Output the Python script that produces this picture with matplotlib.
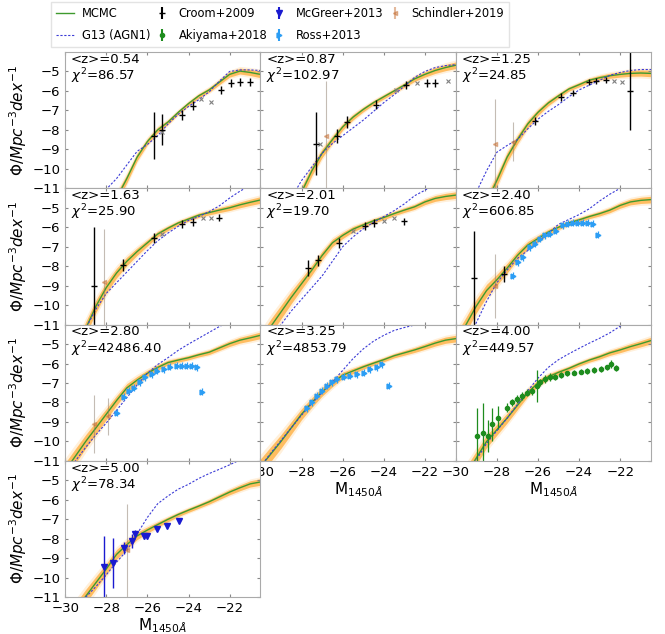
#!/usr/bin/env python3
import numpy as np
import matplotlib
matplotlib.use('Agg')
import matplotlib.pyplot as plt
from matplotlib.lines import Line2D

# magnitude grid of the model curves
M_GRID = [-30.0, -29.5, -29.0, -28.5, -28.0, -27.5, -27.0, -26.5, -26.0, -25.5,
          -25.0, -24.5, -24.0, -23.5, -23.0, -22.5, -22.0, -21.5, -21.0, -20.5]

Z_MEAN = ['0.54', '0.87', '1.25', '1.63', '2.01', '2.40', '2.80', '3.25', '4.00', '5.00']
CHI2 = ['86.57', '102.97', '24.85', '25.90', '19.70', '606.85', '42486.40', '4853.79', '449.57', '78.34']

MCMC_PHI = [
    [-16.0, -15.0, -14.0, -13.2, -12.3, -11.5, -10.5, -9.4, -8.6, -8.0, -7.6, -7.1, -6.65, -6.25, -5.95, -5.55, -5.15, -4.98, -5.05, -5.15],
    [-15.5, -14.5, -13.3, -12.3, -11.2, -10.1, -9.2, -8.5, -7.85, -7.35, -6.95, -6.6, -6.3, -6.0, -5.7, -5.38, -5.15, -4.95, -4.8, -4.68],
    [-15.0, -14.0, -12.8, -11.7, -10.6, -9.4, -8.5, -7.7, -7.1, -6.62, -6.25, -5.9, -5.68, -5.45, -5.32, -5.22, -5.15, -5.1, -5.08, -5.1],
    [-13.5, -12.4, -11.2, -10.05, -9.1, -8.35, -7.75, -7.25, -6.8, -6.35, -6.05, -5.78, -5.58, -5.38, -5.25, -5.12, -5.0, -4.85, -4.72, -4.6],
    [-11.9, -11.1, -10.35, -9.6, -8.9, -8.2, -7.45, -6.8, -6.42, -6.1, -5.88, -5.67, -5.5, -5.3, -5.12, -4.95, -4.7, -4.52, -4.42, -4.35],
    [-11.9, -11.0, -10.05, -9.25, -8.7, -8.1, -7.45, -6.92, -6.58, -6.25, -6.0, -5.78, -5.62, -5.45, -5.3, -5.12, -4.88, -4.7, -4.62, -4.58],
    [-11.5, -10.75, -10.0, -9.3, -8.6, -7.9, -7.25, -6.85, -6.5, -6.2, -5.95, -5.82, -5.7, -5.55, -5.42, -5.2, -4.98, -4.8, -4.68, -4.55],
    [-11.3, -10.65, -10.0, -9.3, -8.6, -8.0, -7.45, -7.0, -6.6, -6.38, -6.17, -5.98, -5.8, -5.6, -5.45, -5.3, -5.13, -4.95, -4.8, -4.72],
    [-12.5, -11.7, -10.85, -10.0, -9.4, -8.8, -8.15, -7.5, -7.0, -6.68, -6.45, -6.25, -6.02, -5.82, -5.65, -5.45, -5.3, -5.13, -4.98, -4.82],
    [-12.4, -11.7, -10.95, -10.25, -9.55, -8.8, -8.3, -7.85, -7.55, -7.27, -7.0, -6.75, -6.53, -6.32, -6.1, -5.85, -5.6, -5.38, -5.18, -5.08],
]

BAND_HALF = [0.4, 0.38, 0.35, 0.32, 0.28, 0.25, 0.22, 0.19, 0.16, 0.14,
             0.12, 0.11, 0.11, 0.11, 0.12, 0.13, 0.14, 0.15, 0.16, 0.17]

G13_PHI = [
    [-13.5, -13.0, -12.4, -11.8, -11.05, -10.5, -9.8, -9.1, -8.75, -8.3, -7.7, -7.2, -6.8, -6.45, -6.05, -5.5, -5.0, -4.92, -4.92, -4.95],
    [-14.0, -13.3, -12.5, -11.5, -10.6, -9.9, -9.2, -8.7, -8.3, -7.9, -7.5, -7.05, -6.6, -6.2, -5.75, -5.3, -5.0, -4.8, -4.7, -4.65],
    [-13.5, -12.5, -11.2, -10.1, -9.15, -8.8, -8.5, -7.95, -7.45, -7.05, -6.7, -6.3, -5.95, -5.7, -5.45, -5.2, -5.05, -4.95, -4.9, -4.9],
    [-13.0, -12.2, -11.2, -10.2, -9.4, -8.85, -8.3, -7.75, -7.2, -6.7, -6.3, -5.95, -5.65, -5.45, -5.2, -4.9, -4.5, -4.15, -3.85, -3.55],
    [-12.6, -11.8, -11.0, -10.3, -9.7, -9.1, -8.5, -7.75, -7.0, -6.5, -6.08, -5.75, -5.45, -5.15, -4.8, -4.38, -4.1, -3.8, -3.5, -3.2],
    [-12.9, -11.9, -10.9, -9.8, -8.85, -8.2, -7.6, -7.2, -6.75, -6.3, -5.85, -5.6, -5.35, -5.05, -4.65, -4.3, -4.0, -3.7, -3.4, -3.1],
    [-11.7, -11.0, -10.3, -9.65, -9.05, -8.4, -7.75, -7.1, -6.5, -6.05, -5.7, -5.32, -5.0, -4.7, -4.4, -4.1, -3.85, -3.6, -3.35, -3.1],
    [-11.3, -10.6, -9.95, -9.3, -8.65, -8.05, -7.5, -6.95, -6.35, -5.75, -5.25, -4.85, -4.55, -4.3, -4.15, -4.02, -3.85, -3.6, -3.35, -3.15],
    [-12.6, -11.8, -10.95, -10.1, -9.45, -8.8, -8.1, -7.4, -6.75, -6.2, -5.8, -5.5, -5.22, -4.95, -4.7, -4.42, -4.08, -3.8, -3.5, -3.2],
    [-12.2, -11.6, -11.0, -10.45, -9.85, -9.2, -8.6, -7.75, -6.9, -6.2, -5.8, -5.45, -5.2, -4.9, -4.65, -4.43, -4.2, -3.95, -3.7, -3.45],
]

# Croom+2009 (panels 1-6)
CROOM_M = [
    [-25.7, -25.27, -24.3, -23.8, -22.4, -21.95, -21.5, -21.0],
    [-27.3, -26.3, -25.8, -24.4, -22.9, -21.9, -21.5],
    [-26.15, -24.9, -24.3, -23.5, -23.2, -22.7, -21.5],
    [-28.6, -27.2, -25.7, -24.3, -23.8, -22.5],
    [-27.7, -27.2, -26.2, -24.9, -24.5, -23.0],
    [-29.1, -27.65],
]
CROOM_PHI = [
    [-8.3, -8.0, -7.25, -6.75, -5.95, -5.6, -5.55, -5.55],
    [-8.7, -8.3, -7.6, -6.7, -5.7, -5.6, -5.6],
    [-7.55, -6.3, -6.1, -5.55, -5.5, -5.45, -6.0],
    [-9.0, -7.95, -6.55, -5.85, -5.75, -5.5],
    [-8.1, -7.7, -6.8, -5.95, -5.8, -5.7],
    [-8.6, -8.4],
]
CROOM_ERR = [
    [1.2, 0.8, 0.25, 0.25, 0.2, 0.2, 0.2, 0.2],
    [1.6, 0.35, 0.3, 0.25, 0.2, 0.2, 0.2],
    [0.2, 0.2, 0.15, 0.15, 0.15, 0.15, 2.0],
    [3.0, 0.3, 0.25, 0.2, 0.2, 0.2],
    [0.4, 0.3, 0.25, 0.2, 0.2, 0.2],
    [2.4, 0.4],
]
# Croom+2009 points outside the fit range (grey crosses)
CROSS_M = [
    [-25.3, -23.4, -22.9],
    [-27.1, -23.4, -22.4, -20.9],
    [-22.3, -21.9],
    [-25.3, -23.3, -22.9],
    [-25.5, -24.0, -23.5],
    [],
]
CROSS_PHI = [
    [-8.1, -6.4, -6.55],
    [-8.7, -5.95, -5.6, -5.5],
    [-5.5, -5.55],
    [-6.35, -5.55, -5.55],
    [-6.2, -5.7, -5.55],
    [],
]

# Schindler+2019
SCHINDLER_PANEL = [1, 2, 2, 3, 5, 6, 6, 9]
SCHINDLER_M = [-26.8, -28.1, -27.2, -28.1, -28.1, -28.6, -27.9, -27.0]
SCHINDLER_PHI = [-8.3, -8.7, -8.6, -8.8, -9.0, -9.1, -8.7, -8.6]
SCHINDLER_ERR = [2.8, 2.3, 1.0, 2.7, 1.65, 1.5, 0.95, 2.4]

# Ross+2013 (panels 6-8)
ROSS_PANEL = [5, 6, 7]
ROSS_M = [
    [-27.2, -26.97, -26.73, -26.4, -26.16, -25.9, -25.67, -25.43, -25.1, -24.78, -24.53, -24.3, -24.05, -23.8, -23.56, -23.32, -23.07],
    [-27.48, -27.15, -26.9, -26.66, -26.34, -26.1, -25.77, -25.53, -25.2, -24.88, -24.55, -24.3, -24.07, -23.82, -23.58, -23.33],
    [-27.74, -27.5, -27.25, -27.0, -26.76, -26.52, -26.28, -25.95, -25.63, -25.3, -24.98, -24.65, -24.33, -24.08, -23.76],
]
ROSS_PHI = [
    [-8.48, -7.8, -7.54, -7.02, -6.85, -6.6, -6.42, -6.34, -6.17, -5.9, -5.82, -5.77, -5.77, -5.77, -5.77, -5.82, -6.39],
    [-8.52, -7.71, -7.4, -7.23, -6.97, -6.71, -6.54, -6.37, -6.28, -6.16, -6.11, -6.11, -6.11, -6.11, -6.2, -7.44],
    [-8.3, -8.0, -7.66, -7.4, -7.14, -6.97, -6.8, -6.68, -6.63, -6.54, -6.46, -6.28, -6.2, -6.03, -7.14],
]

# Akiyama+2018 (z=4.0)
AKI_M = [-28.97, -28.67, -28.42, -28.26, -27.94, -27.53, -27.28, -27.04, -26.8, -26.55, -26.3, -26.06, -25.9,
         -25.65, -25.4, -25.16, -24.9, -24.58, -24.25, -23.93, -23.6, -23.28, -22.95, -22.63, -22.46, -22.2]
AKI_PHI = [-9.72, -9.55, -9.72, -9.12, -8.78, -8.26, -8.0, -7.83, -7.66, -7.49, -7.4, -7.14, -6.97,
           -6.8, -6.71, -6.68, -6.58, -6.51, -6.46, -6.41, -6.37, -6.34, -6.29, -6.2, -6.03, -6.24]
AKI_ERR = [1.45, 1.5, 0.8, 0.85, 0.6, 0.25, 0.2, 0.2, 0.2, 0.2, 0.2, 0.83, 0.2,
           0.2, 0.2, 0.15, 0.15, 0.15, 0.15, 0.15, 0.15, 0.15, 0.15, 0.15, 0.2, 0.15]

# McGreer+2013 (z=5.0)
MCG_M = [-28.13, -27.67, -27.15, -26.75, -26.59, -26.18, -26.02, -25.53, -25.04, -24.47]
MCG_PHI = [-9.45, -9.24, -8.47, -8.12, -7.75, -7.87, -7.87, -7.52, -7.35, -7.09]
MCG_ERR = [1.6, 1.3, 0.3, 0.35, 0.2, 0.15, 0.15, 0.08, 0.08, 0.08]

C_MCMC = '#3f9a2e'
C_BAND = '#ff9c10'
C_G13 = '#3b3bd6'
C_ROSS = '#2b9df4'
C_MCG = '#1a1ad0'
C_AKI = '#1e8c1e'
C_SCH = '#c8743a'


def draw():
    fig, axes = plt.subplots(4, 3, sharex=True, sharey=True, figsize=(6.65, 6.34), dpi=100)
    fig.subplots_adjust(left=0.098, right=0.979, top=0.918, bottom=0.058, wspace=0, hspace=0)
    axes = axes.ravel()
    axes[10].set_visible(False)
    axes[11].set_visible(False)

    m = np.array(M_GRID)
    band = np.array(BAND_HALF)
    for i in range(10):
        ax = axes[i]
        phi = np.array(MCMC_PHI[i])
        ax.fill_between(m, phi - 1.6 * band, phi + 1.6 * band, color=C_BAND, alpha=0.15, lw=0)
        ax.fill_between(m, phi - band, phi + band, color=C_BAND, alpha=0.6, lw=0)
        ax.plot(m, phi, color=C_MCMC, lw=1.0)
        ax.plot(m, G13_PHI[i], color=C_G13, lw=0.8, dashes=(2, 1.5))

        if i < len(CROOM_M):
            ax.errorbar(CROOM_M[i], CROOM_PHI[i], yerr=CROOM_ERR[i], fmt='_', ms=4,
                        color='k', elinewidth=1.0, capsize=0)
            ax.plot(CROSS_M[i], CROSS_PHI[i], 'x', color='gray', ms=3.5, mew=0.8)

        for p, sm, sp, se in zip(SCHINDLER_PANEL, SCHINDLER_M, SCHINDLER_PHI, SCHINDLER_ERR):
            if p == i:
                ax.errorbar([sm], [sp], yerr=[se], fmt='<', ms=3, color=C_SCH,
                            ecolor='#8a7a6a', elinewidth=0.8, alpha=0.5)

        if i in ROSS_PANEL:
            k = ROSS_PANEL.index(i)
            ax.errorbar(ROSS_M[k], ROSS_PHI[k], yerr=0.18, fmt='>', ms=3.5,
                        color=C_ROSS, elinewidth=0.9)
        if i == 8:
            ax.errorbar(AKI_M, AKI_PHI, yerr=AKI_ERR, fmt='o', ms=3,
                        color=C_AKI, elinewidth=0.9)
        if i == 9:
            ax.errorbar(MCG_M, MCG_PHI, yerr=MCG_ERR, fmt='v', ms=4,
                        color=C_MCG, elinewidth=1.0)

        ax.text(0.03, 0.995, '<z>=' + Z_MEAN[i], transform=ax.transAxes,
                va='top', ha='left', fontsize=9.5)
        ax.text(0.03, 0.895, r'$\chi^2$=' + CHI2[i], transform=ax.transAxes,
                va='top', ha='left', fontsize=9.5)

        ax.tick_params(direction='in', length=2.5, color='#888888', top=True,
                       right=True, labelsize=9.5)
        for s in ax.spines.values():
            s.set_color('#aaaaaa')

    axes[0].set_xlim(-30, -20.5)
    axes[0].set_ylim(-11, -4)
    axes[0].set_xticks([-30, -28, -26, -24, -22])
    axes[0].set_yticks([-5, -6, -7, -8, -9, -10, -11])

    for i in (7, 8):
        axes[i].tick_params(labelbottom=True)
    for i in (7, 8, 9):
        axes[i].set_xlabel(r'M$_{1450\AA}$', fontsize=11, labelpad=1)
    for i in (0, 3, 6, 9):
        axes[i].set_ylabel(r'$\Phi/Mpc^{-3}dex^{-1}$', fontsize=11, labelpad=2)

    handles = [
        Line2D([], [], color=C_MCMC, lw=1.0),
        Line2D([], [], color=C_G13, lw=0.8, dashes=(2, 1.5)),
        axes[0].errorbar([], [], yerr=[], fmt='_', color='k', ms=4),
        axes[8].errorbar([], [], yerr=[], fmt='o', ms=3, color=C_AKI),
        axes[9].errorbar([], [], yerr=[], fmt='v', ms=4, color=C_MCG),
        axes[5].errorbar([], [], yerr=[], fmt='>', ms=3.5, color=C_ROSS),
        axes[1].errorbar([], [], yerr=[], fmt='<', ms=3, color=C_SCH, alpha=0.5),
    ]
    labels = ['MCMC', 'G13 (AGN1)', 'Croom+2009', 'Akiyama+2018', 'McGreer+2013',
              'Ross+2013', 'Schindler+2019']
    leg = fig.legend(handles, labels, loc='upper center', bbox_to_anchor=(0.421, 1.006),
                     ncol=4, fontsize=8.3, handlelength=1.6, handletextpad=0.65,
                     columnspacing=0.2, labelspacing=0.75, borderpad=0.45, fancybox=False)
    leg.get_frame().set_edgecolor('#dddddd')

    plt.savefig('out.png')
    plt.close()


if __name__ == '__main__':
    draw()
